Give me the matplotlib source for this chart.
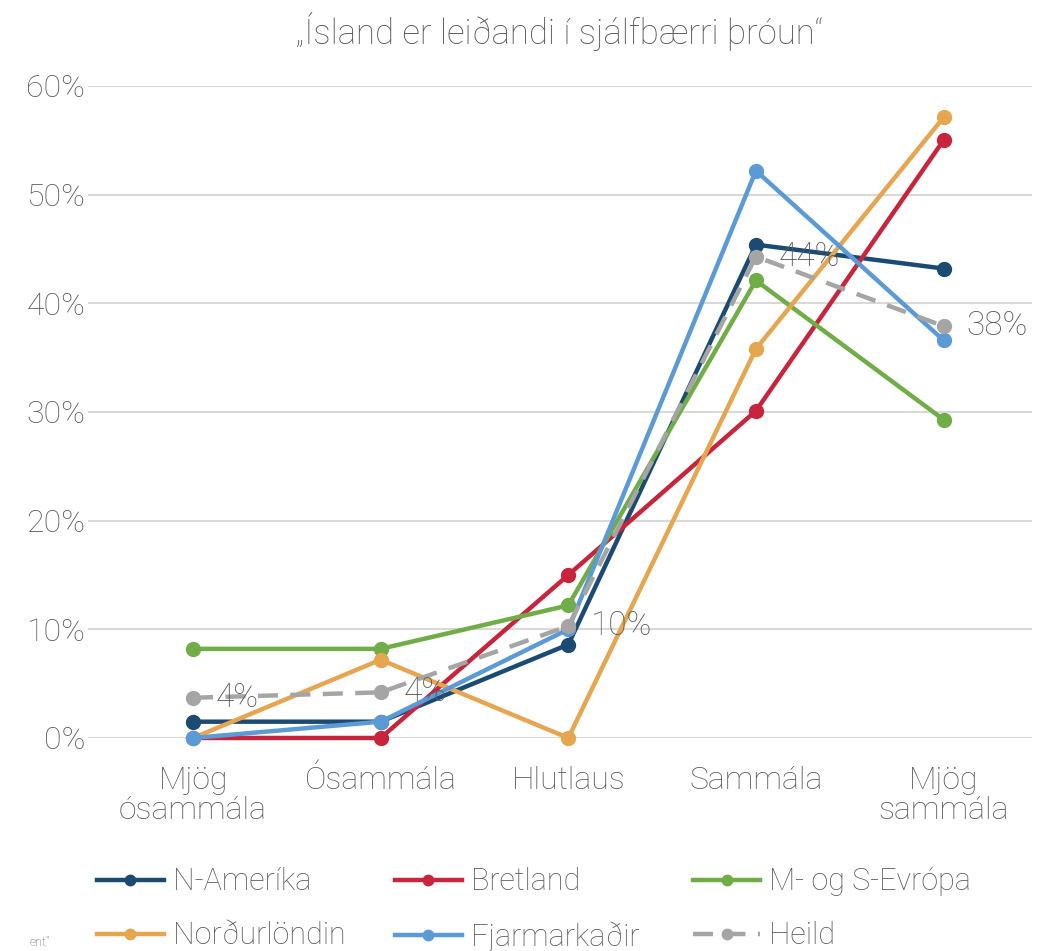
import numpy as np
import matplotlib.pyplot as plt

plt.rcParams['font.family'] = ['Roboto', 'DejaVu Sans']
plt.rcParams['font.weight'] = 'light'

categories = ['Mjög\nósammála', 'Ósammála', 'Hlutlaus', 'Sammála', 'Mjög\nsammála']
n_amerika = [1.5, 1.5, 8.6, 45.4, 43.2]
bretland = [0.0, 0.0, 15.0, 30.1, 55.0]
evropa = [8.2, 8.2, 12.2, 42.1, 29.3]
nordurlondin = [0.0, 7.2, 0.0, 35.8, 57.1]
fjarmarkadir = [0.0, 1.5, 10.0, 52.2, 36.6]
heild = [3.7, 4.2, 10.3, 44.3, 37.9]

series = [
    ('N-Ameríka', n_amerika, '#1b4b73', '-'),
    ('Bretland', bretland, '#c8243c', '-'),
    ('M- og S-Evrópa', evropa, '#70ad47', '-'),
    ('Norðurlöndin', nordurlondin, '#e6a650', '-'),
    ('Fjarmarkaðir', fjarmarkadir, '#5b9bd5', '-'),
    ('Heild', heild, '#a5a5a5', (0, (4.5, 2.8))),
]

txt = '#595959'
fig = plt.figure(figsize=(10.39, 9.51), dpi=100)
ax = fig.add_axes([0.0847, 0.224, 0.9083, 0.6856])

x = np.arange(len(categories))
lines = []
for name, vals, col, ls in series:
    ln, = ax.plot(x, np.array(vals) / 100, color=col, lw=3.2, ls=ls, marker='o',
                  ms=10, label=name, clip_on=False, zorder=3)
    lines.append(ln)

for xi, v in zip(x, heild):
    ax.text(xi + 0.12, v / 100, f'{v:.0f}%', color=txt, fontsize=24,
            va='center', ha='left', zorder=4)

ax.set_xlim(-0.56, 4.47)
ax.set_ylim(0, 0.6)
ax.set_yticks(np.arange(0, 0.61, 0.1))
ax.set_yticklabels([f'{int(round(t * 100))}%' for t in np.arange(0, 0.61, 0.1)])
ax.set_xticks(x)
ax.set_xticklabels(categories, linespacing=1.05)
ax.tick_params(axis='both', length=0, labelsize=23, labelcolor=txt)
ax.tick_params(axis='x', pad=20)
ax.tick_params(axis='y', pad=2)
ax.grid(axis='y', color='#d9d9d9', lw=1.5)
ax.set_axisbelow(True)
for s in ax.spines.values():
    s.set_visible(False)

ax.set_title('„Ísland er leiðandi í sjálfbærri þróun“', fontsize=25,
             color=txt, pad=30, fontweight='light')

# legend laid out row by row: one small legend per column
col_x = [0.093, 0.380, 0.667]
for c in range(3):
    idx = [c, c + 3]
    fig.legend([lines[i] for i in idx], [series[i][0] for i in idx],
               loc='upper left', bbox_to_anchor=(col_x[c], 0.088),
               frameon=False, fontsize=22, handlelength=2.2, markerscale=0.75,
               handletextpad=0.3, labelspacing=0.82, borderpad=0,
               borderaxespad=0, labelcolor=txt)

fig.text(0.048, 0.002, 'ent"', fontsize=9, color=txt, ha='right', va='bottom')

fig.savefig('out.png', dpi=100)
